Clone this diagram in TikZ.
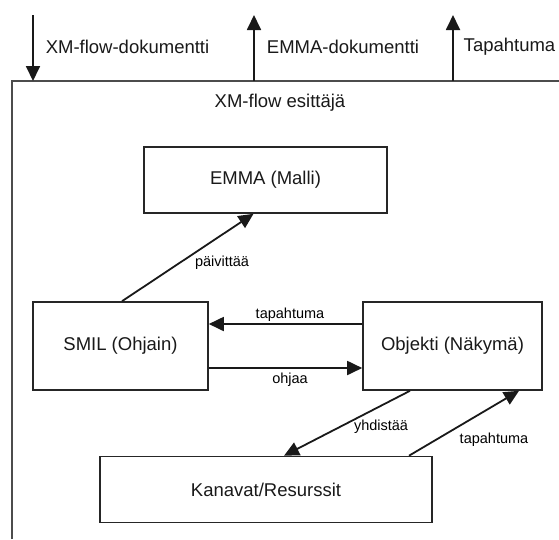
\documentclass[tikz,border=0pt]{standalone}
\usepackage{fontspec}
\setmainfont{Liberation Sans}
\usetikzlibrary{arrows.meta}
\begin{document}
\begin{tikzpicture}[x=1pt,y=-1pt,
  bigtxt/.style={font=\fontsize{18.5}{22}\selectfont, text=black!90},
  smalltxt/.style={font=\fontsize{14.5}{17}\selectfont, text=black, inner sep=0pt},
  block/.style={draw=black!85, line width=1.6pt, bigtxt, inner sep=0pt},
  flow/.style={draw=black!90, line width=1.8pt, -{Triangle[length=15pt,width=14pt]}},
  frame/.style={draw=black!70, line width=1.6pt}]
\useasboundingbox (0,0) rectangle (559,539);

% outer presenter frame (runs off the page to the right and below)
\coordinate (frameBL) at (12,539);
\coordinate (frameTL) at (12,81);
\coordinate (frameTR) at (559,81);
\draw[frame] (frameBL) -- (frameTL) -- (frameTR);
\node[bigtxt] (title) at (280,103) {XM-flow esittäjä};

% interface arrows on top of the frame
\coordinate (inTop) at (33,15);
\coordinate (inBot) at (33,81);
\coordinate (emOutBot) at (254,81);
\coordinate (emOutTop) at (254,15);
\coordinate (evOutBot) at (453,81);
\coordinate (evOutTop) at (453,15);
\draw[flow] (inTop) -- (inBot);
\draw[flow] (emOutBot) -- (emOutTop);
\draw[flow] (evOutBot) -- (evOutTop);
\node[bigtxt] (inLbl) at (127.5,47) {XM-flow-dokumentti};
\node[bigtxt] (emLbl) at (343,47) {EMMA-dokumentti};
\node[bigtxt] (evLbl) at (509.5,47) {Tapahtuma};

% components
\node[block, minimum width=243pt, minimum height=66pt] (emma) at (265.5,180) {EMMA (Malli)};
\node[block, minimum width=175pt, minimum height=88pt] (smil) at (120.5,346) {SMIL (Ohjain)};
\node[block, minimum width=179pt, minimum height=88pt] (obj) at (452.5,346) {Objekti (Näkymä)};
\node[block, minimum width=332pt, minimum height=66pt] (kan) at (266,489.5) {Kanavat/Resurssit};

% connections
\draw[flow] ([xshift=1.5pt]smil.north) -- ([xshift=-12pt]emma.south);
\node[smalltxt] (lblUpd) at (222,263) {päivittää};

\draw[flow] ([yshift=22pt]obj.west) -- ([yshift=22pt]smil.east);
\node[smalltxt] (lblEv1) at (290,315) {tapahtuma};

\draw[flow] ([yshift=-22pt]smil.east) -- ([yshift=-22pt]obj.west);
\node[smalltxt] (lblCtl) at (290,380) {ohjaa};

\draw[flow] ([xshift=-42.5pt]obj.south) -- ([xshift=18pt]kan.north);
\node[smalltxt] (lblCon) at (381,427) {yhdistää};

\draw[flow] ([xshift=143pt]kan.north) -- ([xshift=66.5pt]obj.south);
\node[smalltxt] (lblEv2) at (494,440) {tapahtuma};
\end{tikzpicture}
\end{document}
